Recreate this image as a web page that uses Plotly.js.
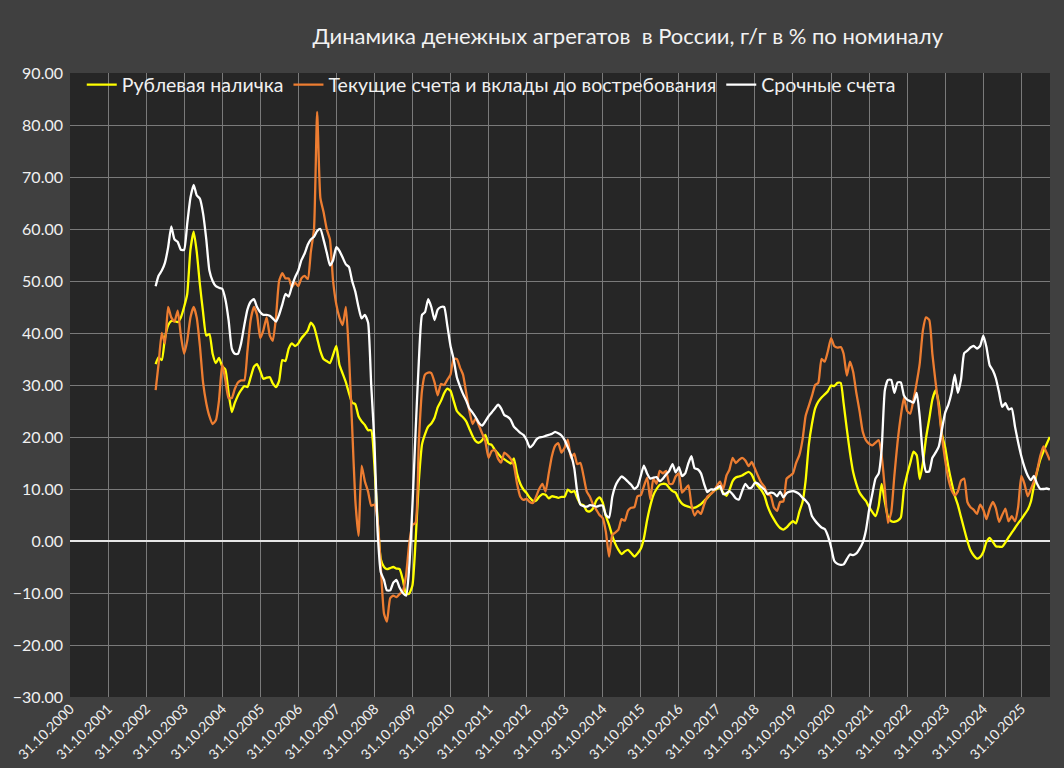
<!DOCTYPE html>
<html>
<head>
<meta charset="utf-8">
<script src="https://cdn.plot.ly/plotly-3.0.1.min.js"></script>
<style>
html,body{margin:0;padding:0;background:#404040;}
#chart{width:1064px;height:768px;}
</style>
</head>
<body>
<div id="chart"></div>
<script>
// Monthly series, first value = January 2003
const startYear = 2003;
const startMonth = 1;

const seriesNames = ['Рублевая наличка', 'Текущие счета и вклады до востребования', 'Срочные счета'];

const cashRub = [
  34, 35.3, 34.8, 39, 41.5, 42.3, 42.3, 42.1, 43, 45, 47.5, 56,
  59.5, 55.7, 49.3, 44, 39.5, 39.8, 36, 34.2, 35.2, 33.6, 33, 28.5,
  24.8, 26.5, 28, 29, 29.8, 29.6, 31.5, 33.5, 34, 32.7, 31.2, 31.4,
  31.5, 30.3, 29.6, 30.8, 34.8, 34.6, 37, 38, 37.5, 38, 39, 39.7,
  40.5, 42, 41.2, 39, 36.5, 35, 34.6, 34.2, 35.8, 37.5, 33.9, 32.2,
  30.5, 28.5, 26.6, 26.3, 24, 23, 22.3, 21.3, 21.3, 14.5, 4, -3.5,
  -5, -5.4, -5.2, -5, -5.3, -5.4, -7.5, -10.2, -10.1, -8.5, 0, 11.5,
  18.6, 20.5, 22, 22.6, 23.7, 25.7, 26.9, 28.4, 29.3, 28.9, 27, 25,
  24.3, 23.8, 23, 21.6, 20.2, 19.2, 18.9, 19.4, 20.4, 18.7, 18.5, 17.5,
  16.8, 16.1, 15.7, 15.3, 14.9, 15.9, 12.9, 11, 9.9, 9.2, 8.3, 7.7,
  7.8, 8.5, 9, 8.9, 8.2, 8.6, 8.5, 8.3, 8.5, 8.5, 9.9, 9.4,
  9.6, 8.3, 7.1, 6.9, 5.8, 5.7, 6.3, 7.8, 8.4, 7.4, 4.8, 3.1,
  1.0, -0.5, -1.7, -2.5, -2, -1.7, -2.3, -3, -2.4, -1.5, 0.5, 4,
  6.8, 8.8, 10, 10.8, 11, 10.9, 10.2, 9.6, 9.3, 8, 7.2, 6.8,
  6.6, 6.4, 6.4, 6.7, 7.1, 7.7, 8.3, 9, 9.6, 10, 10.3, 9.3,
  8.7, 9.8, 11.5, 12.2, 12.4, 12.6, 13, 13.3, 12.8, 11.4, 10.5, 9.8,
  8.7, 6.8, 5.3, 4.2, 3.2, 2.5, 2.2, 2.6, 3.3, 3.8, 3.4, 5.6,
  7.5, 11.5, 18.5, 22.5, 25.5, 26.8, 27.6, 28.2, 28.8, 29.9, 29.8, 30.4,
  30.4, 26.5, 21.5, 17, 13.2, 11, 9.3, 8.4, 7.7, 6.5, 5.6, 4.8,
  6.8, 11, 7.5, 4.6, 3.8, 3.7, 3.9, 4.5, 10, 12.8, 15, 17.2,
  16.5, 11.9, 15, 19.8, 23.5, 27.2, 29, 26.5, 20.5, 18, 14.3, 11.3,
  8.7, 7, 4.6, 2.3, 0, -1.8, -2.8, -3.4, -3.1, -2.1, -0.2, 0.6,
  -0.2, -1, -1.1, -1.1, -0.3, 0.7, 1.6, 2.5, 3.4, 4.2, 5.1, 6,
  7.6, 10.5, 13.3, 15.6, 17.2, 18.6, 20
];

const currentAccounts = [
  29, 34, 40, 38, 45, 43, 42.2, 44.3, 39.5, 36, 38.5, 43,
  45, 43, 37.5, 30.5, 26.5, 24, 22.5, 23.2, 27, 34, 31, 27.5,
  27.5, 29.2, 30.5, 30.9, 30.9, 36.5, 42.5, 45, 43.5, 39, 40.5, 43,
  39.5, 38.5, 43, 50, 51.5, 50.5, 50.5, 48.8, 49.7, 49, 50.5, 51,
  50.4, 55.5, 60, 82.5, 66, 63.3, 60, 58, 50, 45.5, 43, 41.5,
  45, 36, 22, 8, 1, 14.5, 11.5, 9.5, 6.8, 7, 4, -5,
  -14, -15.5, -11, -10.5, -10.8, -10.2, -9.6, -6.5, -0.5, 3.1, 3.5, 19,
  29, 32, 32.4, 32.3, 30.5, 28, 30.2, 30, 31, 32, 35, 35,
  33.3, 32, 28.5, 25, 22.5, 23.6, 22.2, 20.7, 19.2, 16, 17.3, 17.5,
  15.8, 15.1, 17, 16.5, 15.8, 14.6, 11, 8.5, 7.9, 8.1, 7.5, 7.3,
  8.6, 10, 11, 9.5, 13, 16.3, 18.3, 18.8, 17, 18, 19.5, 16,
  16.8, 14.8, 15, 12.5, 9.5, 8.5, 7, 6, 5, 4.4, 1.8, -3,
  1.2, 1.6, 2.2, 4.2, 3.9, 5.8, 6.4, 6.5, 8.6, 8.8, 10.5, 12.2,
  8, 12, 11, 13.5, 13, 13.5, 11, 11, 12.4, 13, 9.3, 10,
  10.7, 7, 4.9, 5.8, 5.2, 7, 8.5, 9, 9.5, 10.6, 11.4, 10,
  12.6, 13.7, 16, 15, 15.6, 16, 15.5, 14.4, 15.2, 13.9, 12.5, 11.2,
  10.4, 9, 8.7, 6.5, 5.8, 7.5, 7.6, 12, 12.5, 13, 15, 16.5,
  19.5, 24, 26, 27.9, 30, 30.4, 35, 34.5, 36.5, 39, 37.5, 37.2,
  37.3, 36, 31.8, 34.5, 32.5, 28.5, 25, 21, 19.4, 18.7, 18.4, 18.9,
  19.4, 16.5, 10, 3.5, 5.5, 12.5, 19, 24, 27.5, 25, 24.5, 27.2,
  30.5, 34, 40.5, 43, 42.5, 36, 30.5, 25.5, 20, 15.5, 12, 9.8,
  8.8, 9.5, 11.6, 12, 7.5, 6.5, 6, 5.2, 7, 6, 4.2, 6.2,
  7.5, 6.3, 3.7, 5, 6.2, 3.8, 4.8, 3.8, 6.5, 12.5, 11, 8.6,
  10, 11.4, 13.5, 16.3, 18.2, 17, 15.5
];

const termDeposits = [
  49, 51, 52, 53.5, 56.5, 60.5, 58, 57.5, 56, 56, 61, 66,
  68.5, 66.5, 65.8, 63, 58, 52, 50, 49, 48.7, 48.5, 46.5, 42.5,
  37, 36, 36, 38, 41.5, 44.5, 46, 46.5, 45, 44, 43.5, 43.5,
  43.3, 42.8, 42.2, 43.5, 45.5, 47.5, 47, 49, 50.7, 52, 54, 55.3,
  57, 58, 58.5, 59.6, 60, 58, 55.5, 53, 54, 56.5, 55.8, 54.5,
  53.2, 52.7, 50, 48, 45, 42.8, 43.5, 42, 30, 19, 2, -6,
  -7.5, -9.5, -9.5, -8, -7.5, -9, -10, -10.5, -5, 7, 21, 34.5,
  43.5, 44, 46.5, 45, 42.5, 44.5, 45, 45, 41.5, 37.5, 35, 31.5,
  29.7, 28.3, 27, 25.5, 24.7, 23.8, 22.7, 22.2, 23, 24, 24.7, 25.5,
  26.2, 25.5, 24.2, 23.9, 23.3, 22, 21.4, 20.8, 20.4, 19.4, 18, 18.5,
  19.5, 19.9, 20, 20.2, 20.4, 20.6, 21, 20.7, 20.3, 19.4, 18, 16.5,
  14, 9.5, 7, 6.7, 6.6, 6.9, 6.8, 6.6, 6.8, 6.8, 5, 4.5,
  8.5, 10.5, 11.7, 12.4, 12, 11.4, 10.8, 10, 10.5, 12.5, 14.5, 13,
  12, 12.2, 12.3, 11.5, 12, 12.8, 13.5, 14.8, 13.2, 14.2, 12.5, 13,
  15, 16.3, 14, 13.8, 13, 11, 9.4, 9.9, 9.9, 10.2, 10.6, 9,
  9.2, 9.6, 9, 8.2, 8, 9.6, 11, 10.2, 10.3, 11.2, 11, 10.4,
  9.9, 9, 9.3, 9.2, 8.6, 9.5, 8.4, 9.2, 9.5, 9.6, 9.4, 9,
  8.3, 7.8, 7, 4.8, 3.9, 3.2, 2.6, 2.3, 1, -1.2, -3.8, -4.4,
  -4.6, -4.5, -3.5, -2.6, -2.7, -2.4, -1.5, -0.3, 2, 6, 9, 12,
  13, 17.6, 29, 31, 31, 28.5, 30.5, 30.5, 28, 27.2, 26.9, 26.6,
  28.5, 24, 16.5, 13.3, 13.4, 16, 17, 18.2, 21.5, 24.7, 26.2, 28.5,
  32, 28.5, 31, 36.1, 36.6, 37.2, 37.5, 37, 37.5, 39.5, 37.3, 33.8,
  32.8, 31.3, 28.6, 25.8, 26.5, 25.3, 25.5, 22, 19, 16.3, 14.2, 12.6,
  11.7, 12.5, 11, 10, 10, 10.1, 9.9
];

const tickLabels = [
  '31.10.2000','31.10.2001','31.10.2002','31.10.2003','31.10.2004','31.10.2005',
  '31.10.2006','31.10.2007','31.10.2008','31.10.2009','31.10.2010','31.10.2011',
  '31.10.2012','31.10.2013','31.10.2014','31.10.2015','31.10.2016','31.10.2017',
  '31.10.2018','31.10.2019','31.10.2020','31.10.2021','31.10.2022','31.10.2023',
  '31.10.2024','31.10.2025'
];

// month-end dates for the series
function monthEnd(y, m) { // m: 1..12
  const d = new Date(Date.UTC(y, m, 0));
  return d.toISOString().slice(0, 10);
}
const months = [];
for (let i = 0; i < cashRub.length; i++) {
  const t = (startMonth - 1) + i;
  months.push(monthEnd(startYear + Math.floor(t / 12), (t % 12) + 1));
}
const tickVals = tickLabels.map(s => {
  const p = s.split('.');
  return p[2] + '-' + p[1] + '-' + p[0];
});

const font = 'Lato, "Open Sans", sans-serif';
const lineShape = {shape: 'spline', smoothing: 0.5, width: 2.3};

const traces = [
  {x: months, y: cashRub, name: seriesNames[0], type: 'scatter', mode: 'lines',
   line: Object.assign({color: '#ffff00'}, lineShape)},
  {x: months, y: currentAccounts, name: seriesNames[1], type: 'scatter', mode: 'lines',
   line: Object.assign({color: '#ed7d31'}, lineShape)},
  {x: months, y: termDeposits, name: seriesNames[2], type: 'scatter', mode: 'lines',
   line: Object.assign({color: '#ffffff'}, lineShape)}
];

const layout = {
  width: 1064, height: 768,
  paper_bgcolor: '#404040',
  plot_bgcolor: '#262626',
  margin: {l: 70, r: 14, t: 73, b: 71},
  font: {family: font, color: '#f0f0f0'},
  title: {text: 'Динамика денежных агрегатов  в России, г/г в % по номиналу',
          font: {family: font, size: 22, color: '#f2f2f2'},
          x: 0.59, xanchor: 'center', y: 0.953, yanchor: 'middle'},
  showlegend: true,
  legend: {orientation: 'h', x: 0.012, y: 1.012, xanchor: 'left', yanchor: 'top',
           bgcolor: 'rgba(0,0,0,0)', font: {family: font, size: 19.5, color: '#f0f0f0'},
           traceorder: 'normal', itemwidth: 30},
  xaxis: {type: 'date', range: ['2000-10-31', '2026-08-02'],
          tickmode: 'array', tickvals: tickVals, ticktext: tickLabels,
          tickangle: -45, tickfont: {family: font, size: 14, color: '#f0f0f0'},
          showgrid: true, gridcolor: '#7a7a7a', gridwidth: 1,
          zeroline: false, showline: false, ticks: ''},
  yaxis: {range: [-30, 90], dtick: 10, tick0: 0, tickformat: '.2f',
          tickfont: {family: font, size: 16, color: '#f0f0f0'},
          ticklabelstandoff: 6,
          showgrid: true, gridcolor: '#7a7a7a', gridwidth: 1,
          zeroline: true, zerolinecolor: '#e6e6e6', zerolinewidth: 1.5,
          showline: false, ticks: ''}
};

Plotly.newPlot('chart', traces, layout, {displayModeBar: false, staticPlot: true});
</script>
</body>
</html>
